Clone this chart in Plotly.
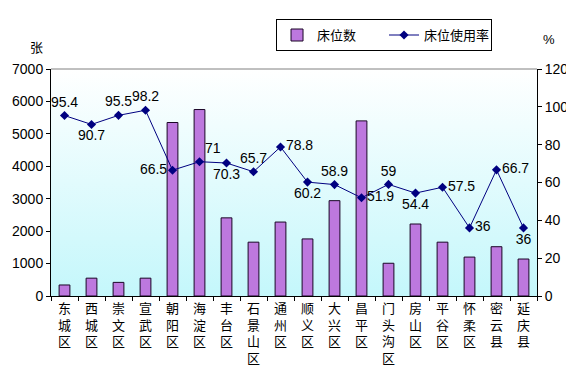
import base64
import plotly.graph_objects as go

districts = ["东城区", "西城区", "崇文区", "宣武区", "朝阳区", "海淀区", "丰台区", "石景山区", "通州区",
             "顺义区", "大兴区", "昌平区", "门头沟区", "房山区", "平谷区", "怀柔区", "密云县", "延庆县"]
beds = [340, 550, 420, 550, 5350, 5750, 2410, 1660, 2280, 1760, 2940, 5400, 1010, 2220, 1660, 1200, 1520, 1140]
usage = [95.4, 90.7, 95.5, 98.2, 66.5, 71, 70.3, 65.7, 78.8, 60.2, 58.9, 51.9, 59, 54.4, 57.5, 36, 66.7, 36]
label_pos = ["top center", "bottom center", "top center", "top center", "middle left", "top right",
             "bottom center", "top center", "middle right", "bottom center", "top center", "middle right",
             "top center", "bottom center", "middle right", "middle right", "middle right", "bottom center"]

tick_text = ["<br>".join(list(d)) for d in districts]

svg = ('<svg xmlns="http://www.w3.org/2000/svg" width="100" height="100" preserveAspectRatio="none">'
       '<defs><linearGradient id="g" x1="0" y1="0" x2="0" y2="1">'
       '<stop offset="0" stop-color="#ffffff"/><stop offset="1" stop-color="#c4f7fb"/>'
       '</linearGradient></defs><rect width="100" height="100" fill="url(#g)"/></svg>')
bg_src = "data:image/svg+xml;base64," + base64.b64encode(svg.encode()).decode()

num_font = "Liberation Sans Narrow, Liberation Sans, Arial"

fig = go.Figure()
fig.add_trace(go.Bar(x=districts, y=beds, name="床位数", width=0.4,
                     marker=dict(color="#bd78de", line=dict(color="#1a0526", width=1))))
fig.add_trace(go.Scatter(x=districts, y=usage, name="床位使用率", yaxis="y2",
                         mode="lines+markers+text", text=[f"{v:g}" for v in usage],
                         textposition=label_pos,
                         textfont=dict(size=14, color="black", family=num_font),
                         line=dict(color="#000080", width=1),
                         marker=dict(symbol="diamond", size=7, color="#000080")))

fig.update_layout(
    width=566, height=369,
    margin=dict(l=43, r=37, t=61, b=81, autoexpand=False),
    paper_bgcolor="white", plot_bgcolor="rgba(0,0,0,0)",
    font=dict(family="Liberation Sans, Arial, Noto Sans CJK SC", size=13, color="black"),
    showlegend=True,
    legend=dict(orientation="h", x=0.463, y=1.22, xanchor="left", yanchor="top",
                bordercolor="black", borderwidth=1, bgcolor="white",
                entrywidth=62, entrywidthmode="pixels",
                font=dict(size=13, family="Noto Sans CJK SC"), itemwidth=30, tracegroupgap=0),
    bargap=0.6,
    xaxis=dict(tickmode="array", tickvals=districts, ticktext=tick_text,
               tickfont=dict(size=13, family="Noto Sans CJK SC"),
               showline=True, linecolor="black", linewidth=1, automargin=False,
               ticks="outside", ticklen=4, tickcolor="black", tickson="boundaries",
               showgrid=False, range=[-0.5, 17.5]),
    yaxis=dict(range=[0, 7000], dtick=1000, showline=True, linecolor="black", linewidth=1,
               automargin=False, tickfont=dict(size=14, family=num_font),
               ticks="outside", ticklen=4, tickcolor="black", showgrid=False, zeroline=False),
    yaxis2=dict(range=[0, 120], dtick=20, overlaying="y", side="right", showline=True,
                automargin=False, tickfont=dict(size=14, family=num_font),
                linecolor="black", linewidth=1, ticks="outside", ticklen=4, tickcolor="black",
                showgrid=False, zeroline=False),
    images=[dict(source=bg_src, xref="paper", yref="paper", x=0, y=1, sizex=1, sizey=1,
                 xanchor="left", yanchor="top", sizing="stretch", layer="below")],
    shapes=[dict(type="line", xref="paper", yref="paper", x0=0, x1=1, y0=1, y1=1,
                 line=dict(color="#808080", width=1))],
    annotations=[
        dict(text="张", xref="paper", yref="paper", x=-0.029, y=1.101, showarrow=False,
             xanchor="center", yanchor="middle",
             font=dict(size=13, family="Noto Sans CJK SC")),
        dict(text="%", xref="paper", yref="paper", x=1.025, y=1.128, showarrow=False,
             xanchor="center", yanchor="middle",
             font=dict(size=13, family=num_font)),
    ],
)

fig.write_html("out.html")
